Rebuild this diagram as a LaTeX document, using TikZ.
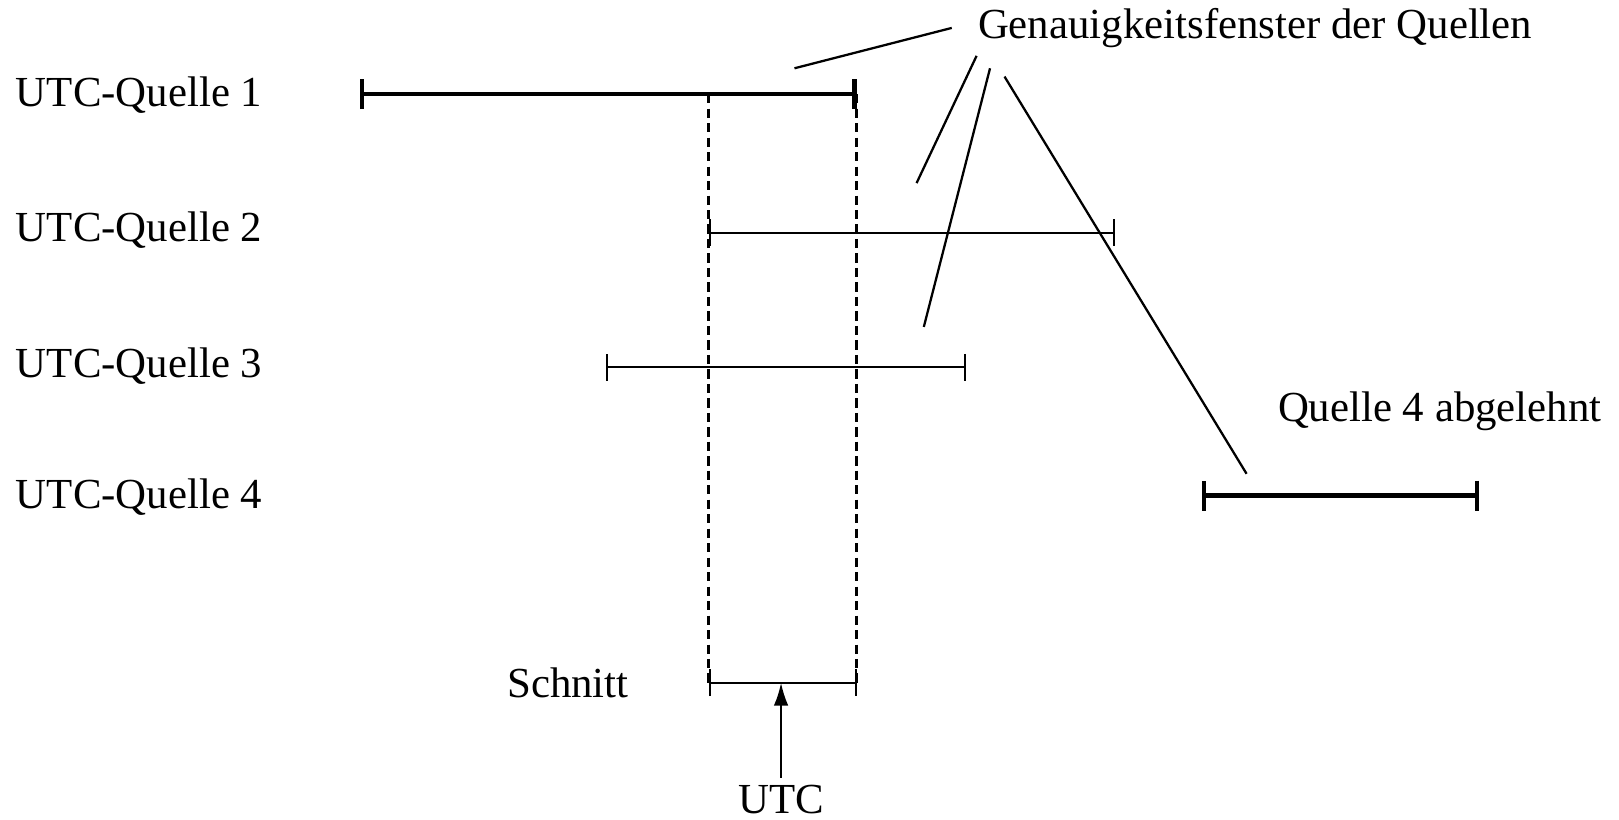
\documentclass[tikz,border=0pt]{standalone}
\usepackage{fontspec}
\setmainfont{Liberation Serif}
\usetikzlibrary{arrows.meta}
\begin{document}
\begin{tikzpicture}[x=0.5pt, y=-0.5pt,
  txt/.style={inner sep=0pt, font=\fontsize{20.7pt}{24pt}\selectfont},
  wide/.style={line width=2pt, {Bar[width=14.5pt]}-{Bar[width=14.5pt]}},
  narrow/.style={line width=1pt, {Bar[width=13pt]}-{Bar[width=13pt]}},
  guide/.style={line width=1.2pt, dash pattern=on 4.5pt off 2.5pt},
  pointer/.style={line width=1.1pt}]
  \useasboundingbox (0,0) rectangle (1565,792);
  % labels
  \foreach \i/\y in {1/103, 2/233, 3/365, 4/492}
    \node[txt, anchor=base west] (q\i) at (15,\y) {UTC-Quelle \i};
  \node[txt, anchor=base west] (gf) at (945,37) {Genauigkeitsfenster der Quellen};
  \node[txt, anchor=base west] (rej) at (1235,407) {Quelle 4 abgelehnt};
  \node[txt, anchor=base east] (cut) at (608,674) {Schnitt};
  \node[txt, anchor=base] (utc) at (755,786) {UTC};
  % intervals of the sources
  \coordinate (a1) at (348,91);  \coordinate (b1) at (828,91);
  \coordinate (a2) at (685,225); \coordinate (b2) at (1078,225);
  \coordinate (a3) at (586,355); \coordinate (b3) at (934,355);
  \coordinate (a4) at (1162,479); \coordinate (b4) at (1430,479);
  \coordinate (sa) at (685,660); \coordinate (sb) at (828,660);
  \coordinate (sm) at (755,660);
  \draw[guide] (685,91) -- (sa);
  \draw[guide] (b1) -- (sb);
  \draw[wide] (a1) -- (b1);
  \draw[narrow] (a2) -- (b2);
  \draw[narrow] (a3) -- (b3);
  \draw[wide] (a4) -- (b4); % rejected
  \draw[narrow] (sa) -- (sb); % intersection
  % pointers to the windows
  \coordinate (g1) at (920,27);  \coordinate (w1) at (768,66);
  \coordinate (g2) at (944,54);  \coordinate (w2) at (886,177);
  \coordinate (g3) at (957,66);  \coordinate (w3) at (893,316);
  \coordinate (g4) at (971,74);  \coordinate (w4) at (1205,458);
  \foreach \k in {1,...,4}
    \draw[pointer] (g\k) -- (w\k);
  % result
  \coordinate (ut) at (755,752);
  \draw[line width=1pt, -{Latex[length=11pt, width=7pt]}] (ut) -- (sm);
\end{tikzpicture}
\end{document}
